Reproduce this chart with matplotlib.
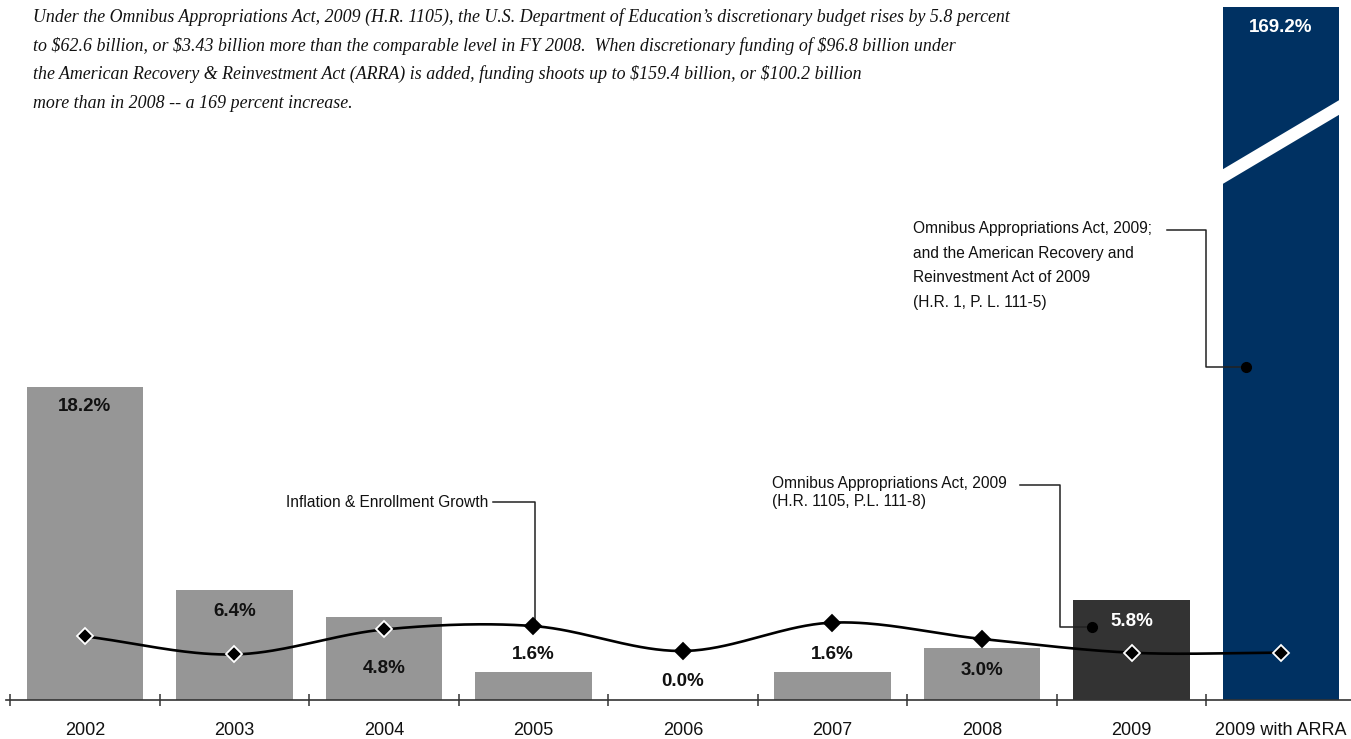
import matplotlib
matplotlib.use("Agg")
import matplotlib.pyplot as plt
import numpy as np
from matplotlib.patches import Polygon

plt.rcParams["font.family"] = ["Liberation Sans", "DejaVu Sans"]

# ---------------------------------------------------------------------------
# Data
# ---------------------------------------------------------------------------
categories = ["2002", "2003", "2004", "2005", "2006", "2007", "2008", "2009",
              "2009 with ARRA"]
budget_growth = [18.2, 6.4, 4.8, 1.6, 0.0, 1.6, 3.0, 5.8, 169.2]
inflation_enroll = [3.7, 2.65, 4.1, 4.3, 2.85, 4.5, 3.55, 2.75, 2.75]

intro_lines = [
    "Under the Omnibus Appropriations Act, 2009 (H.R. 1105), the U.S. Department of Education\u2019s discretionary budget rises by 5.8 percent",
    "to $62.6 billion, or $3.43 billion more than the comparable level in FY 2008.  When discretionary funding of $96.8 billion under",
    "the American Recovery & Reinvestment Act (ARRA) is added, funding shoots up to $159.4 billion, or $100.2 billion",
    "more than in 2008 -- a 169 percent increase.",
]

# ---------------------------------------------------------------------------
# Style / layout
# ---------------------------------------------------------------------------
BAR_COLORS = ["#969696"] * 7 + ["#333333", "#003162"]
LABEL_COLORS = ["#111111"] * 7 + ["white", "white"]
LABEL_Y = [17.05, 5.17, 1.86, 2.62, 1.10, 2.62, 1.74, 4.59, 39.1]
YMAX = 40.3
W, H = 1351, 739


def catmull_rom(x, y, n=40):
    """Smooth curve through the points (like a spreadsheet 'smoothed line')."""
    x = np.asarray(x, float)
    y = np.asarray(y, float)
    px = np.concatenate([[2 * x[0] - x[1]], x, [2 * x[-1] - x[-2]]])
    py = np.concatenate([[2 * y[0] - y[1]], y, [2 * y[-1] - y[-2]]])
    xs, ys = [], []
    t = np.linspace(0, 1, n)
    for i in range(1, len(px) - 2):
        for p, out in ((px, xs), (py, ys)):
            p0, p1, p2, p3 = p[i - 1], p[i], p[i + 1], p[i + 2]
            out.append(0.5 * ((2 * p1) + (-p0 + p2) * t
                              + (2 * p0 - 5 * p1 + 4 * p2 - p3) * t ** 2
                              + (-p0 + 3 * p1 - 3 * p2 + p3) * t ** 3))
    return np.concatenate(xs), np.concatenate(ys)


fig = plt.figure(figsize=(W / 100, H / 100), dpi=100)
ax = fig.add_axes([6 / W, 39 / H, (W - 6) / W, 693 / H])

x = np.arange(len(categories))
ax.bar(x, budget_growth, width=0.78, color=BAR_COLORS, zorder=1)

# break mark on the ARRA bar
ax.add_patch(Polygon([[7.55, 30.55], [8.45, 35.2], [8.45, 34.35], [7.55, 29.7]],
                     closed=True, facecolor="white", edgecolor="none", zorder=2))

for xi, v, ly, c in zip(x, budget_growth, LABEL_Y, LABEL_COLORS):
    ax.text(xi, ly, f"{v:.1f}%", ha="center", va="center", fontsize=13.5,
            fontweight="bold", color=c, zorder=5)

# inflation & enrollment growth line
sx, sy = catmull_rom(x, inflation_enroll)
ax.plot(sx, sy, color="black", lw=1.9, zorder=3, solid_capstyle="round")
for xi, v, b in zip(x, inflation_enroll, budget_growth):
    ec = "white" if v < b else "black"
    ax.plot(xi, v, marker="D", ms=8, mfc="black", mec=ec, mew=1.3, zorder=4)

ax.set_xlim(-0.528, 8.468)
ax.set_ylim(0, YMAX)
for s in ["top", "right", "left"]:
    ax.spines[s].set_visible(False)
ax.spines["bottom"].set_color("#333333")
ax.spines["bottom"].set_linewidth(1.2)
ax.set_yticks([])
ax.set_xticks(x)
ax.set_xticklabels(categories, fontsize=13, color="#111111")
ax.tick_params(axis="x", which="major", length=0, pad=16)
ax.set_xticks(np.arange(-0.5, 8.0, 1.0), minor=True)
ax.tick_params(axis="x", which="minor", direction="inout", length=9,
               width=1.1, color="#333333")


def to_data(px, py):
    return (px - 85) / 149.5, (700 - py) / 17.2


# annotation: inflation & enrollment growth
tx, ty = to_data(488, 502)
ax.text(tx, ty, "Inflation & Enrollment Growth", ha="right", va="center",
        fontsize=11.2, color="#111111")
cx, cy = to_data(535, 502)
ax.plot([tx + 0.035, cx, cx], [ty, cy, inflation_enroll[3]], color="#222222",
        lw=1.1, zorder=3)

# annotation: omnibus 2009
t1x, t1y = to_data(772, 476)
ax.text(t1x, t1y, "Omnibus Appropriations Act, 2009\n(H.R. 1105, P.L. 111-8)",
        ha="left", va="top", fontsize=11.2, color="#111111", linespacing=1.25)
l0x, l0y = to_data(1020, 485)
l1x, _ = to_data(1060, 485)
l2x, l2y = to_data(1092, 627)
ax.plot([l0x, l1x, l1x, l2x], [l0y, l0y, l2y, l2y], color="#222222", lw=1.1,
        zorder=3)
ax.plot(l2x, l2y, "o", color="black", ms=7, zorder=4)

# annotation: omnibus + ARRA
a_x, a_y = to_data(913, 221)
ax.text(a_x, a_y, "Omnibus Appropriations Act, 2009;\nand the American Recovery and\n"
        "Reinvestment Act of 2009\n(H.R. 1, P. L. 111-5)",
        ha="left", va="top", fontsize=11.2, color="#111111", linespacing=1.8)
m0x, m0y = to_data(1167, 230)
m1x, _ = to_data(1206, 230)
m2x, m2y = to_data(1246, 367)
ax.plot([m0x, m1x, m1x, m2x], [m0y, m0y, m2y, m2y], color="#222222", lw=1.1,
        zorder=3)
ax.plot(m2x, m2y, "o", color="black", ms=7, zorder=4)

# intro paragraph
for i, line in enumerate(intro_lines):
    fig.text(33 / W, 1 - (17 + 28.7 * i) / H, line, ha="left", va="center",
             fontsize=12.85, fontstyle="italic", family="Liberation Serif",
             color="#111111", parse_math=False)

fig.savefig("out.png", dpi=100)
